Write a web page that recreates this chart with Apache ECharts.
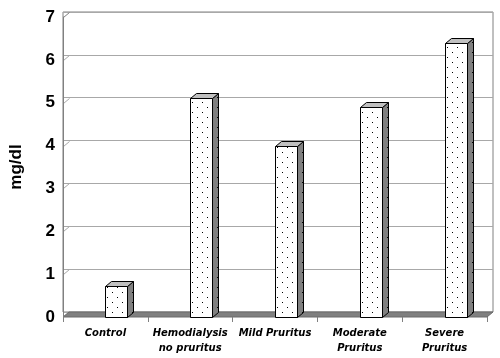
<!DOCTYPE html>
<html>
<head>
<meta charset="utf-8">
<script src="https://cdn.jsdelivr.net/npm/echarts@6/dist/echarts.min.js"></script>
<style>html,body{margin:0;padding:0;background:#fff}#c{width:500px;height:358px}</style>
</head>
<body>
<div id="c"></div>
<script>
const categories = ['Control', 'Hemodialysis\nno pruritus', 'Mild Pruritus', 'Moderate\nPruritus', 'Severe\nPruritus'];
const values = [0.72, 5.1, 4.0, 4.9, 6.4];
const yTicks = [0, 1, 2, 3, 4, 5, 6, 7];

const DX = 6, DY = -5;

function makePattern(bg) {
  const c = document.createElement('canvas');
  c.width = 10; c.height = 10;
  const g = c.getContext('2d');
  g.fillStyle = bg; g.fillRect(0, 0, 10, 10);
  g.fillStyle = '#000';
  g.fillRect(2, 2, 1, 1);
  g.fillRect(7, 7, 1, 1);
  return { image: c, repeat: 'repeat' };
}
const frontPat = makePattern('#ffffff');
const sidePat = makePattern('#808080');

const r = v => Math.round(v) + 0.5;

const chart = echarts.init(document.getElementById('c'), null, { renderer: 'canvas' });

chart.setOption({
  animation: false,
  backgroundColor: '#fff',
  grid: [
    { left: 57, right: 13, top: 17, bottom: 41, z: 5 },
    { left: 63, right: 7, top: 12, bottom: 46, show: true, borderColor: '#808080', borderWidth: 1, backgroundColor: 'transparent', z: 0 }
  ],
  xAxis: [
    {
      type: 'category', gridIndex: 0, data: categories,
      axisLine: { show: false },
      axisTick: { show: true, length: 5, lineStyle: { color: '#808080' } },
      axisLabel: {
        interval: 0, margin: 9,
        fontFamily: 'DejaVu Sans', fontWeight: 'bold', fontStyle: 'italic',
        fontSize: 10, lineHeight: 15, color: '#000'
      },
      z: 10
    },
    { type: 'category', gridIndex: 1, data: categories, show: false }
  ],
  yAxis: [
    {
      type: 'value', gridIndex: 0, min: 0, max: 7, interval: 1,
      name: 'mg/dl', nameLocation: 'middle', nameGap: 38, nameRotate: 90,
      nameTextStyle: { fontFamily: 'Liberation Sans', fontWeight: 'bold', fontSize: 17, color: '#000' },
      axisLine: { show: true, lineStyle: { color: '#808080' } },
      axisTick: { show: false },
      splitLine: { show: false },
      axisLabel: { margin: 8, fontFamily: 'Liberation Sans', fontWeight: 'bold', fontSize: 17, color: '#000' },
      z: 10
    },
    {
      type: 'value', gridIndex: 1, min: 0, max: 7, interval: 1,
      axisLine: { show: false }, axisTick: { show: false }, axisLabel: { show: false },
      splitLine: { show: true, lineStyle: { color: '#a8a8a8', width: 1 } }
    }
  ],
  series: [
    {
      type: 'custom', xAxisIndex: 0, yAxisIndex: 0, z: 2,
      data: [[0, 0]],
      renderItem: function (params, api) {
        const band = api.size([1, 0])[0];
        const p0 = api.coord([0, 0]);
        const xl = p0[0] - band / 2;
        const xr = api.coord([categories.length - 1, 0])[0] + band / 2;
        const y0 = p0[1];
        const children = [];
        children.push({
          type: 'polygon',
          shape: { points: [[xl, y0], [xr, y0], [xr + DX, y0 + DY], [xl + DX, y0 + DY]] },
          style: { fill: '#808080', stroke: '#6a6a6a', lineWidth: 1 }
        });
        yTicks.forEach(function (t) {
          if (t === 0) return;
          const y = api.coord([0, t])[1];
          children.push({
            type: 'line',
            shape: { x1: r(xl), y1: r(y), x2: r(xl + DX), y2: r(y + DY) },
            style: { stroke: t === 7 ? '#808080' : '#a8a8a8', lineWidth: 1 }
          });
        });
        return { type: 'group', children: children };
      }
    },
    {
      type: 'custom', xAxisIndex: 0, yAxisIndex: 0, z: 3,
      data: values.map(function (v, i) { return [i, v]; }),
      renderItem: function (params, api) {
        const i = api.value(0), v = api.value(1);
        const band = api.size([1, 0])[0];
        const c = api.coord([i, 0]);
        const t = api.coord([i, v]);
        const bw = Math.round(band * 0.265);
        const x0 = Math.round(c[0]) + 0.5;
        const x1 = x0 + bw;
        const yb = Math.round(c[1]) + 0.5;
        const yt = Math.round(t[1]) + 0.5;
        return {
          type: 'group',
          children: [
            {
              type: 'polygon',
              shape: { points: [[x1, yt], [x1 + DX, yt + DY], [x1 + DX, yb + DY], [x1, yb]] },
              style: { fill: sidePat, stroke: '#000', lineWidth: 1 }
            },
            {
              type: 'polygon',
              shape: { points: [[x0, yt], [x0 + DX, yt + DY], [x1 + DX, yt + DY], [x1, yt]] },
              style: { fill: '#c0c0c0', stroke: '#000', lineWidth: 1 }
            },
            {
              type: 'rect',
              shape: { x: x0, y: yt, width: bw, height: yb - yt },
              style: { fill: frontPat, stroke: '#000', lineWidth: 1 }
            }
          ]
        };
      }
    }
  ]
});
</script>
</body>
</html>
